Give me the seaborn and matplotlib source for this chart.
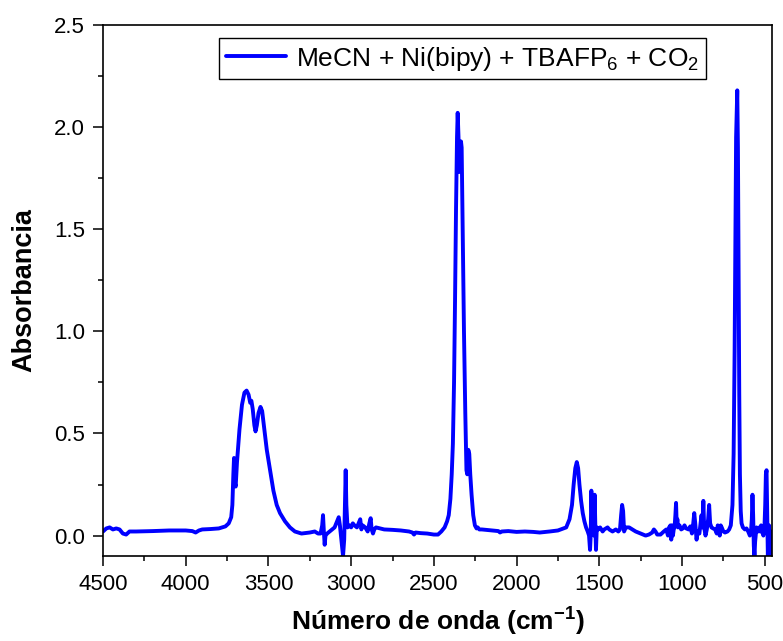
import numpy as np
import pandas as pd
import seaborn as sns
import matplotlib
matplotlib.use("Agg")
import matplotlib.pyplot as plt
from matplotlib.ticker import MultipleLocator

# Wavenumber (cm-1) and absorbance
wavenumber = [
    4500, 4480, 4460, 4440, 4420, 4400, 4380, 4360, 4340, 4300, 4200, 4100, 4000, 3960, 3940, 3920,
    3900, 3850, 3800, 3760, 3740, 3725, 3718, 3712, 3708, 3703, 3698, 3690, 3675, 3660, 3645, 3632,
    3620, 3610, 3603, 3595, 3585, 3578, 3570, 3560, 3548, 3538, 3525, 3510, 3490, 3470, 3450, 3430,
    3400, 3370, 3340, 3300, 3250, 3220, 3200, 3185, 3175, 3170, 3165, 3160, 3155, 3145, 3130, 3100,
    3085, 3075, 3068, 3055, 3049, 3042, 3036, 3033, 3029, 3022, 3010, 3000, 2990, 2980, 2965, 2955,
    2945, 2938, 2930, 2915, 2900, 2890, 2882, 2876, 2868, 2860, 2850, 2800, 2750, 2700, 2650, 2630,
    2620, 2610, 2580, 2540, 2500, 2475, 2455, 2435, 2420, 2410, 2400, 2392, 2385, 2378, 2372, 2366,
    2360, 2356, 2351, 2347, 2342, 2336, 2332, 2326, 2318, 2310, 2303, 2298, 2292, 2286, 2280, 2272,
    2262, 2252, 2242, 2235, 2225, 2210, 2150, 2110, 2100, 2090, 2050, 2000, 1950, 1900, 1860, 1800,
    1750, 1700, 1680, 1665, 1655, 1645, 1636, 1628, 1620, 1610, 1600, 1590, 1580, 1570, 1562, 1556,
    1552, 1548, 1544, 1538, 1532, 1528, 1524, 1520, 1515, 1505, 1495, 1480, 1470, 1450, 1440, 1420,
    1400, 1385, 1375, 1368, 1362, 1356, 1350, 1340, 1320, 1300, 1280, 1250, 1220, 1200, 1180, 1170,
    1160, 1150, 1130, 1110, 1095, 1085, 1078, 1070, 1065, 1060, 1055, 1050, 1045, 1040, 1036, 1032,
    1028, 1024, 1015, 1005, 995, 985, 975, 960, 950, 940, 932, 926, 920, 912, 905, 895,
    888, 882, 876, 871, 866, 858, 850, 842, 836, 830, 822, 812, 800, 790, 784, 778,
    772, 766, 760, 750, 740, 725, 715, 705, 695, 688, 682, 677, 673, 666, 662, 658,
    654, 650, 645, 640, 632, 620, 610, 600, 590, 583, 578, 574, 570, 566, 562, 558,
    550, 540, 533, 528, 522, 516, 508, 502, 497, 493, 489, 485, 481, 478, 474, 470,
    466, 462, 458,
]
absorbance = [
    0.02, 0.035, 0.04, 0.03, 0.035, 0.03, 0.01, 0.005, 0.02, 0.02, 0.022, 0.025, 0.025, 0.022, 0.015, 0.025,
    0.03, 0.032, 0.035, 0.045, 0.06, 0.09, 0.15, 0.30, 0.38, 0.26, 0.24, 0.36, 0.52, 0.64, 0.70, 0.71,
    0.69, 0.65, 0.66, 0.62, 0.54, 0.51, 0.54, 0.60, 0.63, 0.61, 0.52, 0.42, 0.32, 0.22, 0.15, 0.11,
    0.07, 0.04, 0.02, 0.01, 0.015, 0.02, 0.01, 0.01, 0.05, 0.10, 0.02, -0.045, 0.0, 0.01, 0.02, 0.04,
    0.07, 0.09, 0.05, -0.05, -0.10, -0.02, 0.20, 0.32, 0.15, 0.04, 0.05, 0.04, 0.06, 0.05, 0.04, 0.06,
    0.08, 0.03, 0.05, 0.04, 0.02, 0.06, 0.085, 0.03, 0.01, 0.03, 0.04, 0.03, 0.028, 0.025, 0.02, 0.015,
    0.005, 0.015, 0.012, 0.01, 0.005, 0.005, 0.02, 0.04, 0.07, 0.10, 0.18, 0.30, 0.45, 0.75, 1.15, 1.60,
    1.95, 2.07, 1.95, 1.78, 1.85, 1.93, 1.90, 1.50, 1.00, 0.60, 0.32, 0.30, 0.42, 0.40, 0.30, 0.20,
    0.10, 0.05, 0.035, 0.04, 0.03, 0.03, 0.025, 0.022, 0.015, 0.02, 0.022, 0.018, 0.02, 0.018, 0.015, 0.02,
    0.025, 0.04, 0.08, 0.15, 0.25, 0.33, 0.36, 0.33, 0.25, 0.17, 0.11, 0.07, 0.04, 0.02, 0.0, -0.07,
    0.0, 0.22, 0.10, 0.04, 0.0, 0.20, 0.05, -0.07, 0.04, 0.03, 0.04, 0.02, 0.03, 0.04, 0.03, 0.02,
    0.03, 0.02, 0.03, 0.10, 0.15, 0.12, 0.02, 0.04, 0.04, 0.03, 0.02, 0.01, 0.0, 0.005, 0.015, 0.03,
    0.02, 0.005, 0.005, 0.02, 0.03, 0.0, 0.04, 0.05, -0.02, 0.05, 0.0, 0.03, 0.04, 0.10, 0.16, 0.05,
    0.08, 0.04, 0.05, 0.03, 0.035, 0.05, 0.035, 0.03, 0.045, 0.01, 0.06, 0.11, 0.06, -0.02, 0.02, 0.01,
    0.06, 0.10, 0.04, 0.17, 0.04, 0.0, 0.03, 0.08, 0.15, 0.06, 0.04, 0.035, 0.03, 0.01, 0.05, 0.04,
    0.0, 0.05, 0.04, 0.02, 0.015, 0.02, 0.03, 0.05, 0.15, 0.40, 0.90, 1.50, 1.95, 2.18, 1.90, 1.30,
    0.70, 0.30, 0.12, 0.06, 0.04, 0.03, 0.035, 0.02, 0.0, 0.02, 0.08, 0.20, 0.10, -0.05, -0.10, -0.03,
    0.04, 0.02, 0.04, 0.02, 0.05, 0.02, 0.0, 0.03, 0.15, 0.30, 0.32, 0.10, -0.10, 0.0, 0.05, -0.02,
    -0.10, 0.02, -0.10,
]
series_label = r"MeCN + Ni(bipy) + TBAFP$_6$ + CO$_2$"
x_ticks = [4500, 4000, 3500, 3000, 2500, 2000, 1500, 1000, 500]
y_ticks = [0.0, 0.5, 1.0, 1.5, 2.0, 2.5]

df = pd.DataFrame({"wn": wavenumber, "abs": absorbance})

sns.set_theme(style="ticks")
plt.rcParams["font.family"] = ["Liberation Sans", "DejaVu Sans"]
plt.rcParams["mathtext.fontset"] = "custom"
plt.rcParams["mathtext.rm"] = "Liberation Sans"
plt.rcParams["mathtext.it"] = "Liberation Sans"
plt.rcParams["mathtext.bf"] = "Liberation Sans:bold"
plt.rcParams["text.color"] = "black"
plt.rcParams["axes.labelcolor"] = "black"
plt.rcParams["xtick.color"] = "black"
plt.rcParams["ytick.color"] = "black"

fig = plt.figure(figsize=(7.83, 6.41), dpi=100)
ax = fig.add_axes([103 / 783, 1 - 556 / 641, (772 - 103) / 783, (556 - 25) / 641])

sns.lineplot(data=df, x="wn", y="abs", ax=ax, color="#0000FF", linewidth=2.8,
             estimator=None, sort=False, label=series_label)

ax.set_xlim(4500, 456)
ax.set_ylim(-0.1, 2.5)
ax.set_xticks(x_ticks)
ax.set_yticks(y_ticks)
ax.set_xticklabels([str(v) for v in x_ticks])
ax.set_yticklabels([f"{v:.1f}" for v in y_ticks])
ax.xaxis.set_minor_locator(MultipleLocator(250))
ax.yaxis.set_minor_locator(MultipleLocator(0.25))
ax.tick_params(axis="both", which="major", direction="out", length=7, width=1.1,
               labelsize=16, labelcolor="black", pad=6)
ax.tick_params(axis="both", which="minor", direction="out", length=3.5, width=1.1)
ax.tick_params(top=False, right=False, which="both")
for s in ax.spines.values():
    s.set_visible(True)
    s.set_linewidth(1.2)
    s.set_color("black")

ax.set_xlabel(r"Número de onda (cm$^{\mathbf{-1}}$)", fontsize=19, fontweight="bold",
              labelpad=8, color="black")
ax.set_ylabel("Absorbancia", fontsize=19.5, fontweight="bold", labelpad=12, color="black")

leg = ax.legend(loc="upper left", bbox_to_anchor=(0.1734, 0.9755), fontsize=19,
                frameon=True, fancybox=False, edgecolor="black", framealpha=1,
                borderaxespad=0, handlelength=2.3, handletextpad=0.37, borderpad=0.25)
leg.get_frame().set_linewidth(1.0)
for t in leg.get_texts():
    t.set_color("black")

fig.savefig("out.png", dpi=100)
